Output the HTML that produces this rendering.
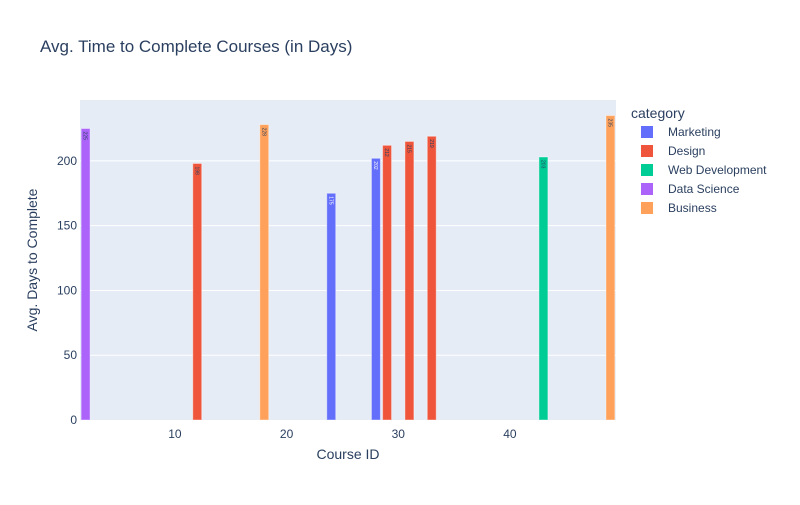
<!DOCTYPE html>
<html><head><meta charset="utf-8"><style>
body{margin:0;background:#fff;font-family:"Liberation Sans",Arial,sans-serif}
svg text{font-family:"Liberation Sans",Arial,sans-serif}
</style></head><body>
<svg id="c" width="800" height="500" xmlns="http://www.w3.org/2000/svg">
<rect width="800" height="500" fill="#fff"/>
<text x="40" y="52" font-size="17" fill="#2a3f5f">Avg. Time to Complete Courses (in Days)</text>
<rect x="80" y="100" width="536" height="320" fill="#e5ecf6"/>
<g id="grid"></g><g id="bars"></g><g id="axes"></g>
<text x="348" y="459" font-size="14" fill="#2a3f5f" text-anchor="middle">Course ID</text>
<text transform="translate(37,260) rotate(-90)" font-size="14" fill="#2a3f5f" text-anchor="middle">Avg. Days to Complete</text>
<g id="legend"></g>
</svg>
<script>
const courseIds=[2,12,18,24,28,29,31,33,43,49];
const avgDays=[225,198,228,175,202,212,215,219,203,235];
const courseCats=["Data Science","Design","Business","Marketing","Marketing","Design","Design","Design","Web Development","Business"];
const categories=["Marketing","Design","Web Development","Data Science","Business"];
const catColors=["#636efa","#EF553B","#00cc96","#ab63fa","#FFA15A"];
const xTicks=[10,20,30,40];
const yTicks=[0,50,100,150,200];
const NS="http://www.w3.org/2000/svg";
const X0=80,X1=616,Y0=420,Y1=100,xmin=1.5,xmax=49.5,ymin=0,ymax=247;
const xs=v=>X0+(v-xmin)/(xmax-xmin)*(X1-X0);
const ys=v=>Y0-(v-ymin)/(ymax-ymin)*(Y0-Y1);
function mk(t,a,p){const e=document.createElementNS(NS,t);for(const k in a)e.setAttribute(k,a[k]);p.appendChild(e);return e;}
const grid=document.getElementById('grid'),axes=document.getElementById('axes'),bars=document.getElementById('bars'),leg=document.getElementById('legend');
yTicks.forEach(v=>{
 if(v>0){const l=mk('line',{x1:X0,x2:X1,y1:ys(v),y2:ys(v),stroke:'#fff','stroke-width':1},grid);
 
 }
 const t=mk('text',{x:X0-3,y:ys(v)+4,'font-size':12,fill:'#2a3f5f','text-anchor':'end'},axes);t.textContent=v;
 
 
});
xTicks.forEach(v=>{
 const t=mk('text',{x:xs(v),y:Y0+18,'font-size':12,fill:'#2a3f5f','text-anchor':'middle'},axes);t.textContent=v;
 
 
});
courseIds.forEach((id,i)=>{
 const col=catColors[categories.indexOf(courseCats[i])];
 let l=Math.max(xs(id-0.4),X0),r=Math.min(xs(id+0.4),X1);
 const b=mk('rect',{x:l,y:ys(avgDays[i]),width:r-l,height:Y0-ys(avgDays[i]),fill:col,stroke:'rgba(255,255,255,0.4)','stroke-width':1},bars);
 
 
 const cx=(l+r)/2,ty=ys(avgDays[i])+3;
 const t=mk('text',{transform:`translate(${cx-2},${ty}) rotate(90)`,'font-size':5,fill:col==='#636efa'?'#fff':'#2a3f5f'},bars);
 t.textContent=avgDays[i];
 
 
});
const lt=mk('text',{x:631,y:118,'font-size':14,fill:'#2a3f5f'},leg);lt.textContent='category';


categories.forEach((c,i)=>{
 const y=132+i*19;
 const g=mk('g',{},leg);
 
 
 mk('rect',{x:641,y:y-6,width:12,height:12,fill:catColors[i]},g);
 const t=mk('text',{x:668,y:y+4,'font-size':12,fill:'#2a3f5f'},g);t.textContent=c;
});
</script>
</body></html>
